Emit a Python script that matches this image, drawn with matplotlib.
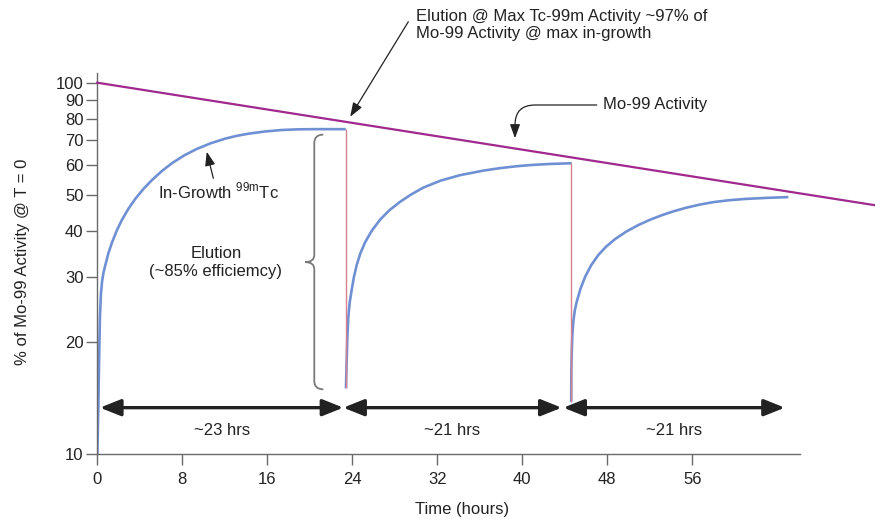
import numpy as np
import matplotlib
matplotlib.use("Agg")
import matplotlib.pyplot as plt
from matplotlib.path import Path
from matplotlib.patches import PathPatch
from matplotlib.ticker import NullLocator

plt.rcParams["font.family"] = ["Liberation Sans", "DejaVu Sans"]
plt.rcParams["mathtext.fontset"] = "custom"
plt.rcParams["mathtext.rm"] = "Liberation Sans"

# ── Data (hours, % of Mo-99 activity at T=0) ────────────────────────────────
mo_t = [0.0, 73.2]
mo_act = [100.0, 46.8]

grow1_t = [0.0, 0.10, 0.17, 0.25, 0.34, 0.45, 0.58, 0.72, 1.04, 1.36,
           1.83, 2.30, 2.925, 3.55, 4.335, 5.12, 6.09, 7.06, 8.185, 9.31,
           10.665, 12.02, 13.115, 14.21, 15.785, 17.36, 18.925, 20.49,
           21.9, 23.38]
grow1_v = [10.0, 13.5, 18.0, 23.5, 27.0, 29.2, 30.8, 32.0, 34.72, 37.0,
           40.0, 42.64, 45.78, 48.58, 51.75, 54.62, 57.9, 60.83, 63.75, 66.23,
           68.7, 70.7, 71.95, 72.9, 73.92, 74.6, 74.91, 75.0,
           75.0, 75.0]

grow2_t = [23.40, 23.46, 23.53, 23.62, 23.75, 23.94, 24.14, 24.41, 24.75,
           25.20, 25.84, 26.61, 27.5, 28.49, 29.52, 30.68, 32.3, 34.14,
           36.33, 37.9, 39.47, 41.0, 42.61, 44.65]
grow2_v = [15.05, 17.5, 20.5, 23.3, 25.6, 27.7, 29.9, 32.3, 34.7,
           37.2, 40.0, 42.8, 45.4, 47.8, 50.0, 52.2, 54.5, 56.4,
           58.0, 58.9, 59.6, 60.1, 60.45, 60.7]

grow3_t = [44.60, 44.612, 44.649, 44.706, 44.80, 44.941, 45.12, 45.478,
           45.901, 46.466, 47.153, 47.878, 48.725, 49.76, 50.918, 52.02,
           53.12, 54.216, 55.31, 56.645, 57.976, 59.548, 61.12, 63.078,
           65.035]
grow3_v = [13.85, 16.65, 18.85, 20.94, 22.84, 24.45, 25.75, 27.93,
           30.0, 32.23, 34.39, 36.2, 37.94, 39.72, 41.4, 42.78,
           43.99, 45.06, 46.0, 46.96, 47.71, 48.31, 48.69, 49.0,
           49.22]

elute_t = [23.38, 44.62]
elute_top = [75.0, 60.7]
elute_bot = [15.05, 13.85]

span_start = [0.25, 23.15, 43.86]
span_end = [23.15, 43.70, 64.70]
span_labels = ["~23 hrs", "~21 hrs", "~21 hrs"]

x_ticks = [0, 8, 16, 24, 32, 40, 48, 56]
y_ticks = [10, 20, 30, 40, 50, 60, 70, 80, 90, 100]

PURPLE = "#a0288e"
BLUE = "#7090d4"
PINK = "#d9808e"
INK = "#222222"
AXC = "#6a6a6a"

fig = plt.figure(figsize=(8.75, 5.19), dpi=100)
ax = fig.add_axes([97.3 / 875, 1 - 454.3 / 519, 702.7 / 875, 381.3 / 519])

ax.set_yscale("log")
ax.set_xlim(0, 66.13)
ax.set_ylim(10, 106.2)

# ── Curves ──────────────────────────────────────────────────────────────────
ax.plot(mo_t, mo_act, color=PURPLE, lw=1.6, clip_on=False, zorder=3)
for t, v in [(grow1_t, grow1_v), (grow2_t, grow2_v), (grow3_t, grow3_v)]:
    ax.plot(t, v, color=BLUE, lw=1.9, solid_capstyle="butt",
            solid_joinstyle="round", zorder=2)
ax.vlines(elute_t, elute_bot, elute_top, color=PINK, lw=1.0, zorder=2)

# ── Interval arrows ─────────────────────────────────────────────────────────
y_arrow = 13.35
for a, b, lab in zip(span_start, span_end, span_labels):
    ax.annotate("", xy=(b, y_arrow), xytext=(a, y_arrow),
                arrowprops=dict(arrowstyle="<|-|>,head_length=0.7,head_width=0.28",
                                color=INK, lw=2.4, shrinkA=0, shrinkB=0,
                                mutation_scale=18))
    ax.text((a + b) / 2, 11.62, lab, ha="center", va="center",
            fontsize=12, color=INK)

# ── Brace for elution ───────────────────────────────────────────────────────
verts = [(21.27, 72.5), (20.42, 72.5), (20.42, 68.8),
         (20.42, 34.4),
         (20.42, 32.9), (19.55, 32.9),
         (20.42, 32.9), (20.42, 31.5),
         (20.42, 15.75),
         (20.42, 14.96), (21.27, 14.96)]
codes = [Path.MOVETO, Path.CURVE3, Path.CURVE3,
         Path.LINETO,
         Path.CURVE3, Path.CURVE3,
         Path.CURVE3, Path.CURVE3,
         Path.LINETO,
         Path.CURVE3, Path.CURVE3]
ax.add_patch(PathPatch(Path(verts, codes), facecolor="none",
                       edgecolor="#7a7a7a", lw=1.3, zorder=2))

ax.text(11.15, 32.8, "Elution\n(~85% efficiemcy)", ha="center", va="center",
        fontsize=12, color=INK, linespacing=1.25)

# ── Annotations ─────────────────────────────────────────────────────────────
ax.text(11.45, 51.1, r"In-Growth $^{\mathrm{99m}}$Tc", ha="center",
        va="center", fontsize=12, color=INK)
ax.annotate("", xy=(10.30, 65.2), xytext=(10.92, 55.3),
            arrowprops=dict(arrowstyle="-|>,head_length=0.6,head_width=0.22",
                            color=INK, lw=0.9, shrinkA=0, shrinkB=0,
                            mutation_scale=14))

ax.text(30.02, 143.0,
        "Elution @ Max Tc-99m Activity ~97% of\nMo-99 Activity @ max in-growth",
        ha="left", va="center", fontsize=12, color=INK, linespacing=1.2)
ax.annotate("", xy=(23.8, 81.0), xytext=(29.27, 145.9),
            arrowprops=dict(arrowstyle="-|>,head_length=0.6,head_width=0.22",
                            color=INK, lw=0.9, shrinkA=0, shrinkB=0,
                            mutation_scale=14),
            annotation_clip=False)

ax.text(47.62, 87.1, "Mo-99 Activity", ha="left", va="center",
        fontsize=12, color=INK)
ax.annotate("", xy=(39.31, 70.9), xytext=(47.0, 87.1),
            arrowprops=dict(arrowstyle="-|>,head_length=0.6,head_width=0.22",
                            connectionstyle="angle,angleA=0,angleB=90,rad=20",
                            color=INK, lw=0.9, shrinkA=0, shrinkB=0,
                            mutation_scale=14))

# ── Axes styling ────────────────────────────────────────────────────────────
ax.set_xticks(x_ticks)
ax.set_xticklabels([str(t) for t in x_ticks])
ax.set_yticks(y_ticks)
ax.set_yticklabels([str(t) for t in y_ticks])
ax.yaxis.set_minor_locator(NullLocator())
ax.tick_params(axis="both", direction="out", length=8, width=1, color=AXC,
               labelsize=12, labelcolor=INK, pad=2)
ax.tick_params(axis="x", pad=5)

for side in ["top", "right"]:
    ax.spines[side].set_visible(False)
for side in ["left", "bottom"]:
    ax.spines[side].set_color(AXC)
    ax.spines[side].set_linewidth(1.0)

ax.set_xlabel("Time (hours)", fontsize=12, color=INK)
ax.xaxis.set_label_coords(0.5186, -0.146)
ax.xaxis.label.set_va("center")
ax.set_ylabel("% of Mo-99 Activity @ T = 0", fontsize=12, color=INK)
ax.yaxis.set_label_coords(-0.1064, 0.5056)
ax.yaxis.label.set_va("center")

fig.savefig("out.png", dpi=100)
